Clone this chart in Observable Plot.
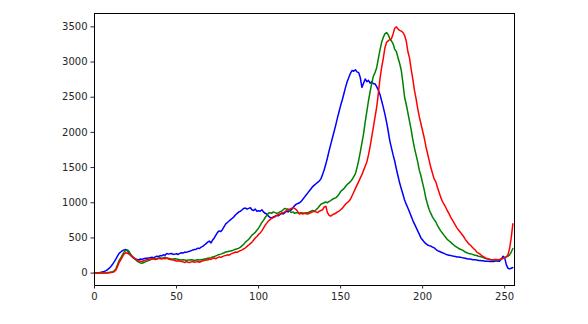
<!DOCTYPE html>
<html><head><meta charset="utf-8">
<script src="https://cdn.jsdelivr.net/npm/d3@7"></script>
<script src="https://cdn.jsdelivr.net/npm/@observablehq/plot@0.6"></script>
<style>body{margin:0;background:#fff}</style>
</head><body><div id="chart"></div>
<script>
const channels = ["b", "g", "r"];
const channelColors = ["#0000ff", "#008000", "#ff0000"];
const xTicks = [0, 50, 100, 150, 200, 250];
const yTicks = [0, 500, 1000, 1500, 2000, 2500, 3000, 3500];

const blue = [
0,2,5,8,12,18,25,35,50,70,95,125,160,200,240,280,
300,320,330,335,320,290,260,230,210,200,195,190,200,195,205,210,
210,215,220,225,215,230,240,235,250,245,260,255,280,270,275,280,
265,270,275,265,280,290,285,300,295,305,310,320,330,335,340,355,
350,370,380,400,420,440,455,430,470,500,540,580,600,590,620,660,
700,720,740,760,780,800,830,850,870,880,900,920,925,910,920,930,
900,890,910,880,885,880,900,870,850,840,810,790,780,800,810,820,
815,830,850,840,860,880,870,890,900,930,960,980,990,1000,1020,1050,
1080,1110,1140,1170,1200,1230,1250,1270,1290,1310,1340,1400,1470,1550,1640,1740,
1830,1920,2010,2100,2200,2290,2380,2460,2550,2640,2720,2780,2840,2880,2870,2890,
2860,2850,2780,2640,2700,2760,2720,2740,2700,2720,2690,2690,2650,2600,2540,2450,
2360,2260,2150,2020,1880,1780,1680,1590,1480,1380,1280,1200,1120,1040,980,925,
870,810,750,700,650,600,550,500,470,440,420,400,390,385,370,360,
340,320,310,300,290,280,270,260,255,250,245,240,235,230,230,225,
220,215,210,205,200,200,195,190,190,185,180,180,175,175,170,170,
170,165,170,165,170,175,170,170,200,240,220,120,70,60,70,80];

const green = [
0,0,0,0,0,2,3,5,8,10,15,20,30,60,120,180,
215,260,300,320,330,310,270,240,215,190,170,155,145,140,150,160,
170,180,190,200,210,205,200,215,220,210,220,225,215,210,205,200,
200,205,200,195,190,185,190,185,180,185,185,190,185,180,185,190,
185,190,195,200,205,210,215,220,230,235,245,255,265,270,280,290,
300,305,310,315,320,330,340,345,355,370,390,410,440,460,480,510,
540,560,580,610,640,680,720,750,790,820,850,860,850,870,860,850,
855,870,880,900,920,910,910,880,860,870,850,860,855,850,860,855,
850,860,855,870,880,890,880,900,920,950,980,990,1000,1010,1000,1020,
1030,1050,1060,1070,1090,1120,1160,1180,1200,1230,1260,1280,1300,1330,1370,1410,
1500,1600,1720,1850,1980,2150,2300,2450,2580,2700,2800,2850,2920,3050,3170,3280,
3350,3400,3420,3390,3330,3300,3260,3180,3150,3060,2980,2880,2700,2500,2400,2280,
2160,2040,1900,1780,1680,1580,1460,1380,1280,1180,1060,980,900,850,800,760,
730,680,640,600,570,540,510,480,460,440,420,400,380,365,350,340,
330,315,300,290,280,275,270,260,255,250,240,235,230,220,210,205,
200,195,190,185,185,190,185,190,200,210,220,230,240,260,300,350];

const red = [
0,0,0,0,0,0,0,2,3,5,8,12,20,40,90,150,
190,230,270,290,285,270,250,235,220,200,185,175,170,165,175,185,
190,195,200,205,200,195,200,210,205,200,210,205,215,200,195,190,
185,180,170,175,170,165,160,150,165,155,150,160,165,155,160,165,
155,165,175,180,190,185,200,195,210,215,205,220,230,225,235,245,
250,260,255,270,280,290,300,295,310,320,330,345,360,380,400,420,
440,470,500,520,550,570,600,640,680,710,740,760,780,790,800,820,
830,840,850,860,870,890,900,910,920,930,920,900,870,840,850,840,
850,845,840,850,860,870,880,870,860,880,890,900,940,950,860,820,
810,830,840,850,870,880,900,920,950,980,1000,1020,1050,1100,1150,1200,
1250,1300,1350,1400,1460,1520,1580,1680,1800,1940,2080,2220,2360,2550,2760,2920,
3050,3200,3280,3300,3320,3330,3400,3480,3500,3470,3450,3440,3420,3380,3300,3150,
3060,2900,2760,2600,2480,2340,2220,2120,2020,1920,1800,1700,1600,1500,1420,1340,
1300,1220,1150,1080,1020,980,940,890,850,800,760,720,680,640,610,580,
550,520,480,450,420,400,375,350,330,300,285,270,250,235,220,210,
200,195,190,190,195,195,190,195,200,210,220,230,260,350,500,700];

const series = [blue, green, red];
const rows = [];
series.forEach((vals, k) => vals.forEach((v, i) => rows.push({bin: i, count: v, ch: channels[k]})));

const chart = Plot.plot({
  width: 588, height: 324,
  marginLeft: 94, marginRight: 74, marginTop: 13, marginBottom: 39,
  style: {fontFamily: "DejaVu Sans", fontSize: "10px", color: "#262626", background: "#fff"},
  x: {domain: [0, 256]},
  y: {domain: [-176, 3690]},
  color: {domain: channels, range: channelColors},
  marks: [
    Plot.line(rows, {x: "bin", y: "count", z: "ch", stroke: "ch", strokeWidth: 1.5}),
    Plot.frame({stroke: "#000", strokeWidth: 1}),
    Plot.axisX({ticks: xTicks, tickSize: 3.5, tickPadding: 3.5, label: null, tickFormat: d => String(d)}),
    Plot.axisY({ticks: yTicks, tickSize: 3.5, tickPadding: 3.5, label: null, tickFormat: d => String(d)})
  ]
});
document.getElementById("chart").appendChild(chart);
</script>
</body></html>
